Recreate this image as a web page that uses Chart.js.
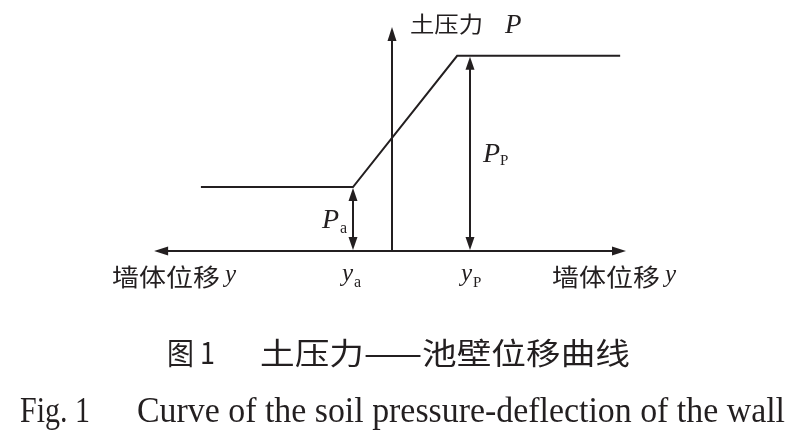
<!DOCTYPE html>
<html>
<head>
<meta charset="utf-8">
<script src="https://cdn.jsdelivr.net/npm/chart.js@4.4.1/dist/chart.umd.min.js"></script>
<style>
  html, body { margin: 0; padding: 0; background: #fff; }
  canvas { display: block; }
</style>
</head>
<body>
<canvas id="myChart" width="800" height="438"></canvas>
<script>
// wall displacement (x) and earth pressure (y) of the broken line
const curveX = [-4.9, -1, 1.67, 5.85];
const curveY = [1, 1, 3.05, 3.05];

// marked values on the axes
const yaValue = -1;
const ypValue = 2;
const paValue = 1;
const ppValue = 3.05;
const axisXEnds = [-6.1, 6.0];
const axisYTop = 3.5;

// texts
const yAxisTitle = '土压力';
const xAxisTitle = '墙体位移';
const captionCn = ['图 1', '土压力——池壁位移曲线'];
const captionEn = ['Fig. 1', 'Curve of the soil pressure-deflection of the wall'];

const INK = '#231f20';
const CJK = '"Noto Sans CJK SC", sans-serif';
const SERIF = '"Liberation Serif", "Times New Roman", serif';

// draw text squeezed / stretched to a given width
function fitText(ctx, str, x, y, font, width) {
    ctx.save();
    ctx.font = font;
    const w = ctx.measureText(str).width;
    ctx.translate(x, y);
    ctx.scale(width / w, 1);
    ctx.fillText(str, 0, 0);
    ctx.restore();
}

function plainText(ctx, str, x, y, font) {
    ctx.font = font;
    ctx.fillText(str, x, y);
}

function arrowHead(ctx, x, y, dx, dy, len, half) {
    // tip at (x, y), pointing in direction (dx, dy)
    const bx = x - dx * len, by = y - dy * len;
    ctx.beginPath();
    ctx.moveTo(x, y);
    ctx.lineTo(bx - dy * half, by + dx * half);
    ctx.lineTo(bx + dy * half, by - dx * half);
    ctx.closePath();
    ctx.fill();
}

const diagramPlugin = {
    id: 'diagram',
    afterDatasetsDraw(chart) {
        const ctx = chart.ctx;
        const xs = chart.scales.x, ys = chart.scales.y;
        const X = v => xs.getPixelForValue(v);
        const Y = v => ys.getPixelForValue(v);

        ctx.save();
        ctx.strokeStyle = INK;
        ctx.fillStyle = INK;
        ctx.lineWidth = 2;

        // horizontal axis with arrows at both ends
        const y0 = Y(0);
        ctx.beginPath();
        ctx.moveTo(X(axisXEnds[0]) + 8, y0);
        ctx.lineTo(X(axisXEnds[1]) - 8, y0);
        ctx.stroke();
        arrowHead(ctx, X(axisXEnds[0]), y0, -1, 0, 14, 4.5);
        arrowHead(ctx, X(axisXEnds[1]), y0, 1, 0, 14, 4.5);

        // vertical axis
        const x0 = X(0);
        ctx.beginPath();
        ctx.moveTo(x0, y0);
        ctx.lineTo(x0, Y(axisYTop) + 8);
        ctx.stroke();
        arrowHead(ctx, x0, Y(axisYTop), 0, -1, 14, 4.5);

        // Pa and Pp dimension arrows
        [[yaValue, paValue], [ypValue, ppValue]].forEach(([xv, pv]) => {
            const px = X(xv), top = Y(pv) + 1;
            ctx.beginPath();
            ctx.moveTo(px, top + 8);
            ctx.lineTo(px, y0 - 8);
            ctx.stroke();
            arrowHead(ctx, px, top, 0, -1, 13, 4.5);
            arrowHead(ctx, px, y0 - 1, 0, 1, 13, 4.5);
        });

        // axis titles
        ctx.textBaseline = 'alphabetic';
        ctx.textAlign = 'left';
        fitText(ctx, yAxisTitle, x0 + 18, 32, '22px ' + CJK, 73);
        plainText(ctx, 'P', x0 + 113, 33, 'italic 27px ' + SERIF);

        fitText(ctx, xAxisTitle, 112, 286, '24px ' + CJK, 108);
        plainText(ctx, 'y', 225, 282, 'italic 25px ' + SERIF);
        fitText(ctx, xAxisTitle, 552, 286, '24px ' + CJK, 108);
        plainText(ctx, 'y', 665, 282, 'italic 25px ' + SERIF);

        // ya, yp under the axis
        plainText(ctx, 'y', X(yaValue) - 11, 281, 'italic 25px ' + SERIF);
        plainText(ctx, 'a', X(yaValue) + 1, 287, '16px ' + SERIF);
        plainText(ctx, 'y', X(ypValue) - 9, 281, 'italic 25px ' + SERIF);
        plainText(ctx, 'P', X(ypValue) + 3, 287, '15px ' + SERIF);

        // Pa, Pp beside the arrows
        plainText(ctx, 'P', X(yaValue) - 31, 228, 'italic 28px ' + SERIF);
        plainText(ctx, 'a', X(yaValue) - 13, 233, '16px ' + SERIF);
        plainText(ctx, 'P', X(ppValue > 0 ? ypValue : 0) + 13, 162, 'italic 28px ' + SERIF);
        plainText(ctx, 'P', X(ypValue) + 30, 165, '15px ' + SERIF);

        // captions
        fitText(ctx, captionCn[0], 167, 364, '30px ' + CJK, 48);
        fitText(ctx, captionCn[1], 260, 364, '30px ' + CJK, 370);
        fitText(ctx, captionEn[0], 20, 422, '36px ' + SERIF, 70);
        fitText(ctx, captionEn[1], 137, 422, '36px ' + SERIF, 648);

        ctx.restore();
    }
};

const ctx = document.getElementById('myChart');

new Chart(ctx, {
    type: 'line',
    data: {
        datasets: [{
            data: curveX.map((x, i) => ({ x: x, y: curveY[i] })),
            borderColor: INK,
            borderWidth: 2,
            pointRadius: 0,
            tension: 0,
            fill: false
        }]
    },
    options: {
        responsive: false,
        animation: false,
        events: [],
        layout: {
            padding: { left: 138.5, right: 154.5, top: 7.8, bottom: 155 }
        },
        plugins: {
            legend: { display: false },
            tooltip: { enabled: false }
        },
        scales: {
            x: { type: 'linear', min: -6.5, max: 6.5, display: false },
            y: { type: 'linear', min: -0.5, max: 3.8, display: false }
        }
    },
    plugins: [diagramPlugin]
});
</script>
</body>
</html>
